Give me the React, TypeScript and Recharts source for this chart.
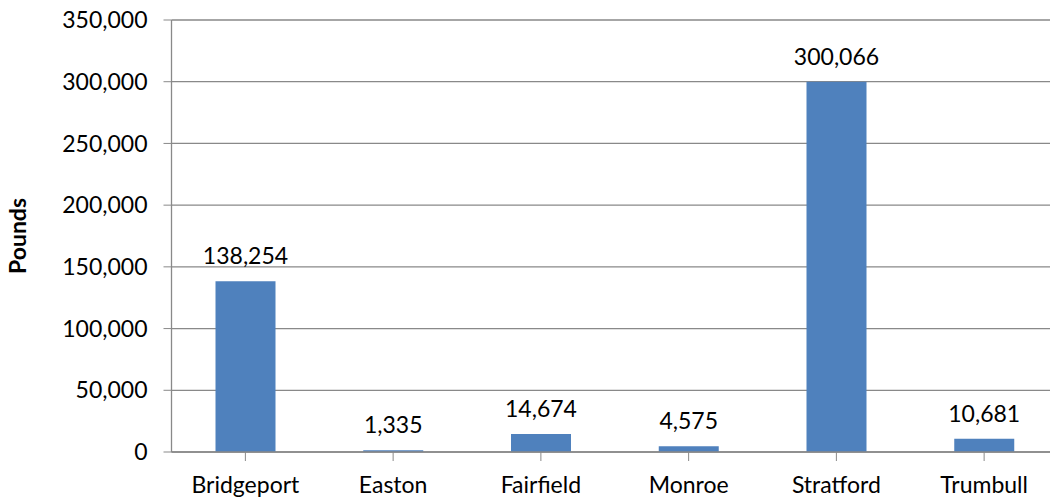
import * as React from "react";
import {
  BarChart,
  Bar,
  XAxis,
  YAxis,
  CartesianGrid,
  LabelList,
} from "recharts";

const towns = ["Bridgeport", "Easton", "Fairfield", "Monroe", "Stratford", "Trumbull"];
const pounds = [138254, 1335, 14674, 4575, 300066, 10681];
const yTicks = [0, 50000, 100000, 150000, 200000, 250000, 300000, 350000];

const chartData = towns.map((town, i) => ({ town, pounds: pounds[i] }));

const fontFamily = "Lato, 'Open Sans', sans-serif";
const fmt = (v: number) => v.toLocaleString("en-US");

export default function App() {
  return (
    <div
      style={{
        position: "fixed",
        top: 0,
        left: 0,
        width: 1050,
        height: 502,
        overflow: "hidden",
        background: "#fff",
      }}
    >
      <BarChart
        width={1070}
        height={502}
        data={chartData}
        margin={{ top: 20, right: 12, left: 0, bottom: 10 }}
      >
        <CartesianGrid vertical={false} stroke="#898989" strokeWidth={1.3} />
        <XAxis
          dataKey="town"
          height={40}
          tickLine={{ stroke: "#898989" }}
          axisLine={{ stroke: "#898989", strokeWidth: 1.3 }}
          tickSize={9}
          tickMargin={16}
          interval={0}
          tick={{ fill: "#000", fontSize: 23, fontFamily }}
          padding={{ left: 0, right: 0 }}
        />
        <YAxis
          width={171.5}
          domain={[0, 350000]}
          ticks={yTicks}
          interval={0}
          tickFormatter={fmt}
          tickSize={8}
          tickMargin={16}
          tickLine={{ stroke: "#898989" }}
          axisLine={{ stroke: "#898989", strokeWidth: 1.3 }}
          tick={{ fill: "#000", fontSize: 23, fontFamily }}
          label={{
            value: "Pounds",
            angle: -90,
            position: "insideLeft",
            offset: 18,
            style: {
              fontFamily,
              fontSize: 23,
              fontWeight: 700,
              fill: "#000",
              textAnchor: "middle",
            },
          }}
        />
        <Bar dataKey="pounds" fill="#4F81BD" barSize={60} isAnimationActive={false}>
          <LabelList
            dataKey="pounds"
            position="top"
            offset={17}
            formatter={(v: number) => fmt(v)}
            style={{ fill: "#000", fontSize: 23, fontFamily }}
          />
        </Bar>
      </BarChart>
    </div>
  );
}
